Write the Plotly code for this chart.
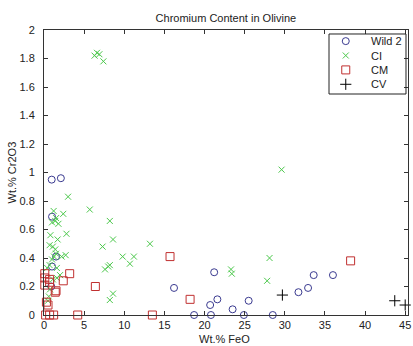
import plotly.graph_objects as go

# Wild 2 (Wt.% FeO, Wt.% Cr2O3)
wild2_feo = [0.96, 2.1, 1.0, 1.5, 1.0, 0.9, 16.2, 21.2, 18.7, 20.7, 21.6, 20.8, 23.5, 25.5, 24.9, 28.5, 31.7, 32.9, 33.6, 36.0]
wild2_cr = [0.95, 0.96, 0.69, 0.41, 0.34, 0.20, 0.19, 0.30, 0.0, 0.07, 0.11, 0.0, 0.04, 0.10, 0.0, 0.0, 0.16, 0.19, 0.28, 0.28]

# CI
ci_feo = [6.3, 6.6, 6.9, 7.4, 29.6, 13.2, 11.2, 10.7, 23.3, 23.4, 28.1, 27.8,
          3.0, 5.7, 8.2, 8.6, 7.3, 9.8, 8.2, 8.0, 7.6, 8.6, 8.2,
          1.2, 2.4, 1.5, 1.4, 1.8, 1.0, 0.8, 2.8, 1.7, 0.7, 1.1, 1.4, 1.5, 1.25,
          2.2, 2.7, 1.0, 0.7, 0.4, 1.6, 2.0, 1.6, 1.1, 0.75, 0.6, 0.5]
ci_cr = [1.82, 1.84, 1.83, 1.78, 1.02, 0.50, 0.41, 0.36, 0.32, 0.29, 0.40, 0.24,
         0.83, 0.74, 0.66, 0.53, 0.48, 0.41, 0.35, 0.34, 0.32, 0.15, 0.105,
         0.73, 0.71, 0.68, 0.66, 0.64, 0.65, 0.56, 0.57, 0.53, 0.49, 0.48, 0.46, 0.43, 0.41,
         0.41, 0.42, 0.39, 0.35, 0.33, 0.33, 0.28, 0.26, 0.25, 0.18, 0.13, 0.10]

# CM
cm_feo = [0.1, 0.1, 0.7, 0.7, 0.1, 1.5, 1.4, 2.4, 3.2, 0.3, 0.5, 0.2, 0.7, 1.2, 4.2, 13.5, 6.4, 15.7, 18.2, 38.2]
cm_cr = [0.29, 0.26, 0.25, 0.23, 0.21, 0.17, 0.16, 0.24, 0.29, 0.09, 0.07, 0.0, 0.0, 0.0, 0.0, 0.0, 0.20, 0.41, 0.11, 0.38]

# CV
cv_feo = [29.7, 43.7, 45.0]
cv_cr = [0.14, 0.10, 0.07]

series_names = ["Wild 2", "CI", "CM", "CV"]

x_ticks = [0, 5, 10, 15, 20, 25, 30, 35, 40, 45]
y_ticks = [0, 0.2, 0.4, 0.6, 0.8, 1, 1.2, 1.4, 1.6, 1.8, 2]
y_tick_text = ["0", "0.2", "0.4", "0.6", "0.8", "1", "1.2", "1.4", "1.6", "1.8", "2"]

FONT = "Liberation Sans, Arial, sans-serif"
TXT = "#222222"
AX = "#333333"

styles = [
    dict(symbol="circle-open", size=7, color="#3a3a90", line=dict(width=1)),
    dict(symbol="x-thin-open", size=6, color="#4cc84c", line=dict(width=1)),
    dict(symbol="square-open", size=8, color="#c03030", line=dict(width=1)),
    dict(symbol="cross-thin-open", size=8, color="#000000", line=dict(width=1)),
]
data = [(wild2_feo, wild2_cr), (ci_feo, ci_cr), (cm_feo, cm_cr), (cv_feo, cv_cr)]

fig = go.Figure()
for name, (xs, ys), st in zip(series_names, data, styles):
    fig.add_trace(go.Scatter(x=xs, y=ys, mode="markers", name=name, marker=st,
                             cliponaxis=False, showlegend=False))

# Custom legend (MATLAB-like compact box), positioned in paper fractions
leg_x0, leg_x1, leg_y0, leg_y1 = 0.783, 0.9945, 0.7754, 0.986
sym_x = 0.829
txt_x = 0.893
row_top = 0.961
row_step = 0.0505
fig.add_shape(type="rect", xref="paper", yref="paper", x0=leg_x0, x1=leg_x1, y0=leg_y0, y1=leg_y1,
              line=dict(color="#222222", width=1), fillcolor="rgba(0,0,0,0)", layer="above")
for i, (name, st) in enumerate(zip(series_names, styles)):
    ry = row_top - i * row_step
    fig.add_trace(go.Scatter(x=[sym_x], y=[ry], xaxis="x2", yaxis="y2", mode="markers",
                             marker=st, showlegend=False, hoverinfo="skip", cliponaxis=False))
    fig.add_annotation(x=txt_x, y=ry, xref="paper", yref="paper", text=name, showarrow=False,
                       xanchor="left", yanchor="middle", font=dict(family=FONT, size=11, color=TXT))

# Axis titles as annotations (MATLAB label placement)
fig.add_annotation(x=0.496, y=-0.084, xref="paper", yref="paper", text="Wt.% FeO", showarrow=False,
                   xanchor="center", yanchor="middle", font=dict(family=FONT, size=11, color=TXT))
fig.add_annotation(x=-0.088, y=0.5, xref="paper", yref="paper", text="Wt.% Cr2O3", showarrow=False,
                   textangle=-90, xanchor="center", yanchor="middle", font=dict(family=FONT, size=11, color=TXT))

fig.update_layout(
    width=413, height=346,
    margin=dict(l=44, r=5, t=30, b=31, autoexpand=False),
    paper_bgcolor="white", plot_bgcolor="white",
    font=dict(family=FONT, size=11, color=TXT),
    title=dict(text="Chromium Content in Olivine", x=0.547, xanchor="center", y=0.948, yanchor="middle",
               font=dict(family=FONT, size=11, color=TXT)),
    showlegend=False,
    xaxis=dict(range=[0, 45.35], tickvals=x_ticks, ticks="inside", ticklen=4, tickcolor=AX, automargin=False,
               showline=True, linecolor=AX, linewidth=1, mirror="ticks", showgrid=False, zeroline=False,
               tickfont=dict(family=FONT, size=11, color=TXT)),
    yaxis=dict(range=[0, 2], tickvals=y_ticks, ticktext=y_tick_text, ticks="inside", ticklen=4, tickcolor=AX,
               automargin=False,
               showline=True, linecolor=AX, linewidth=1, mirror="ticks", showgrid=False, zeroline=False,
               tickfont=dict(family=FONT, size=11, color=TXT), ticklabelstandoff=6),
    xaxis2=dict(overlaying="x", range=[0, 1], visible=False, fixedrange=True),
    yaxis2=dict(overlaying="y", range=[0, 1], visible=False, fixedrange=True),
)

fig.write_html("out.html")
